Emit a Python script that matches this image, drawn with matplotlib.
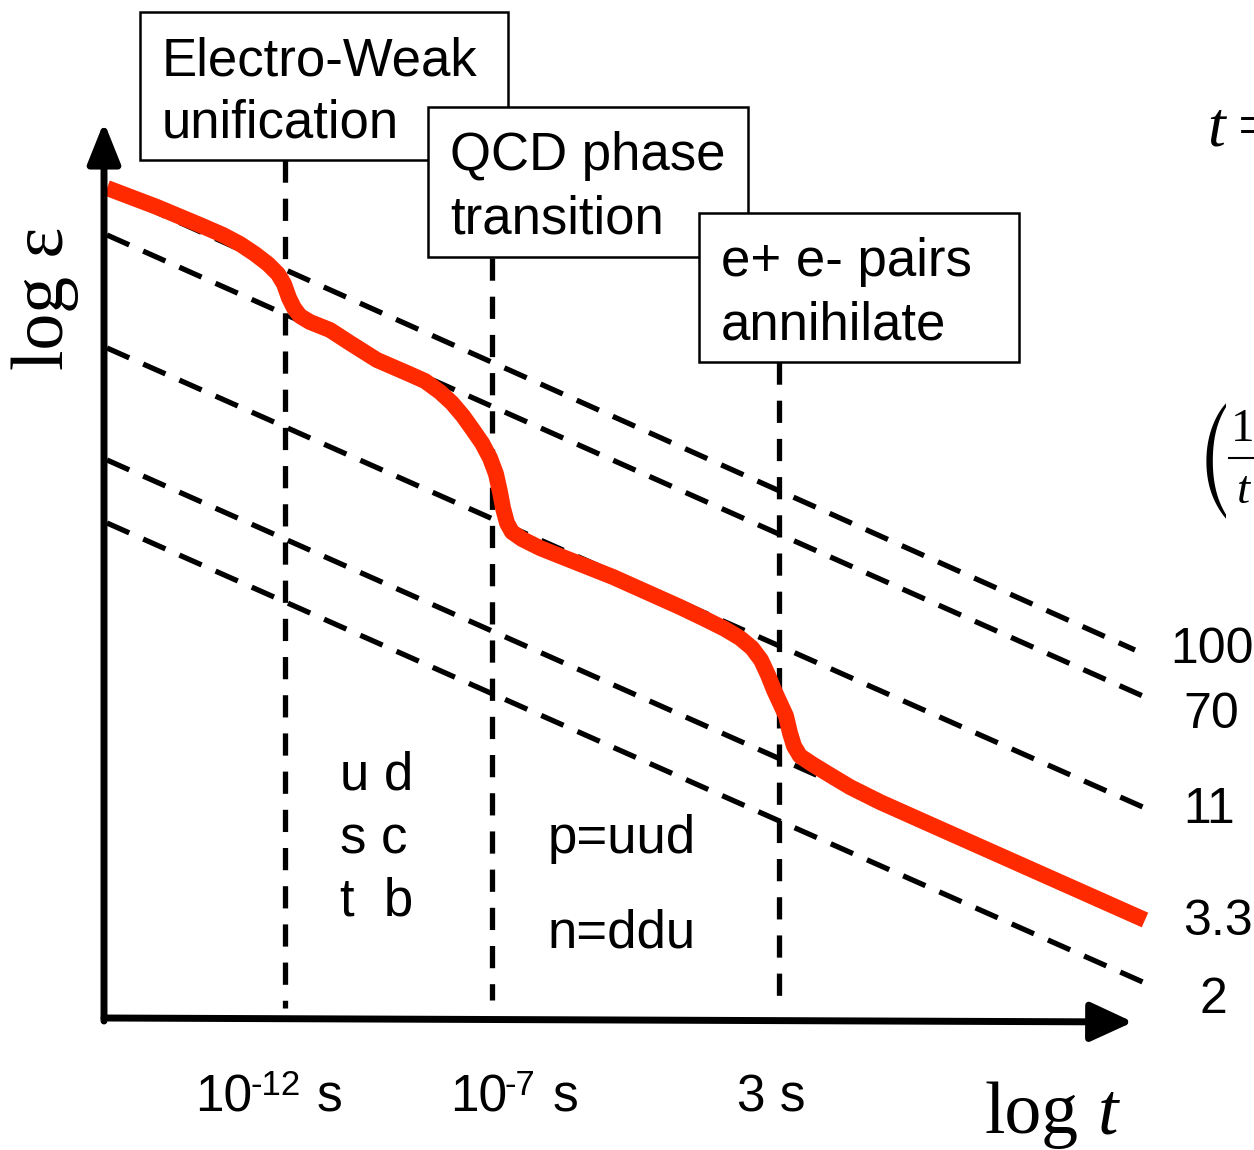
import matplotlib
matplotlib.use('Agg')
import matplotlib.pyplot as plt
from matplotlib.patches import Rectangle
from matplotlib.transforms import Bbox, TransformedBbox

plt.rcParams['lines.scale_dashes'] = False
plt.rcParams['mathtext.fontset'] = 'stix'

SANS = ['Liberation Sans', 'DejaVu Sans']
SERIF = ['Liberation Serif', 'DejaVu Serif']

# ---------------- data (schematic: x ~ log t, y ~ -log eps, picture units) ----
# transitions (vertical dashed lines)
transition_x = [285, 492, 779]
transition_top = [160, 258, 362]
transition_bottom = [1008, 1000, 1002]
tick_base = ["10", "10", "3"]
tick_exp = ["-12", "-7", ""]
tick_left = [195, 450, 737]

# constant-g* lines  (log eps ~ -2 log t + const)
dof_labels = ["100", "70", "11", "3.3", "2"]
dof_x_start = [107, 107, 107, 107, 107]
dof_y_start = [190, 235, 348, 460, 523]
dof_x_end = [1135, 1145, 1145, 1145, 1145]
dof_y_end = [650, 697, 808, 921, 983]
dof_label_x = [1170, 1183, 1183, 1183, 1200]
dof_label_y = [663, 728, 823, 935, 1013]

# actual evolution (red curve)
curve_x = [107, 157, 200, 223, 240, 255, 268, 278, 284, 289, 294, 300, 310,
           330, 350, 377, 407, 425, 440, 452, 463, 473, 482, 490, 496, 500,
           503, 507, 512, 522, 540, 560, 613, 680, 705, 725, 740, 752, 761,
           768, 774, 780, 786, 790, 794, 800, 812, 830, 850, 880, 927, 1145]
curve_y = [188, 207, 225, 235, 244, 254, 264, 274, 284, 298, 308, 316, 322,
           330, 343, 360, 373, 381, 392, 403, 416, 430, 443, 458, 474, 492,
           508, 523, 532, 539, 548, 556, 577, 607, 619, 629, 638, 648, 660,
           675, 690, 703, 716, 733, 746, 756, 764, 775, 787, 802, 823, 920]

# annotation boxes
box_text = ["Electro-Weak\nunification", "QCD phase\ntransition",
            "e+ e- pairs\nannihilate"]
box_x0 = [140, 428, 699]
box_y0 = [12, 107, 213]
box_x1 = [508, 748, 1019]
box_y1 = [160, 257, 362]

# particle content labels
region_text = ["u d", "s c", "t  b", "p=uud", "n=ddu"]
region_x = [340, 340, 340, 548, 548]
region_y = [790, 853, 916, 853, 948]

# ---------------- figure ----------------
fig = plt.figure(figsize=(12.54, 11.5), dpi=100)
ax = fig.add_axes([0, 0, 1, 1])
ax.set_xlim(0, 1254)
ax.set_ylim(1150, 0)
ax.axis('off')

# axes arrows
ax.annotate('', xy=(104, 122), xytext=(104, 1021),
            arrowprops=dict(arrowstyle='-|>,head_length=1.25,head_width=0.5',
                            lw=5.0, color='k', shrinkA=0, shrinkB=0,
                            mutation_scale=20), zorder=4)
ax.annotate('', xy=(1133, 1022), xytext=(104, 1018),
            arrowprops=dict(arrowstyle='-|>,head_length=1.3,head_width=0.6',
                            lw=5.0, color='k', shrinkA=0, shrinkB=0,
                            mutation_scale=20), zorder=4)

# dashed constant lines
for xs, ys, xe, ye in zip(dof_x_start, dof_y_start, dof_x_end, dof_y_end):
    ax.plot([xs, xe], [ys, ye], color='k', lw=3.8, dashes=(17.5, 11),
            solid_capstyle='butt', dash_capstyle='butt', zorder=2)

for lab, lx, ly in zip(dof_labels, dof_label_x, dof_label_y):
    ax.text(lx, ly, lab, fontsize=36, family=SANS, ha='left', va='baseline')

# vertical transitions
for x, yt, yb in zip(transition_x, transition_top, transition_bottom):
    ax.plot([x, x], [yt, yb], color='k', lw=3.8, dashes=(16, 11.5),
            dash_capstyle='butt', zorder=2)

# red curve
ax.plot(curve_x, curve_y, color='#ff2a00', lw=11.5, solid_capstyle='butt',
        solid_joinstyle='round', zorder=3)

# boxes
for i, (t, x0, y0, x1, y1) in enumerate(zip(box_text, box_x0, box_y0,
                                             box_x1, box_y1)):
    ax.add_patch(Rectangle((x0, y0), x1 - x0, y1 - y0, facecolor='white',
                           edgecolor='k', lw=1.8, zorder=5 + i))
    l1, l2 = t.split('\n')
    ax.text(x0 + 22, y0 + 63, l1, fontsize=38, family=SANS, ha='left',
            va='baseline', zorder=5 + i)
    ax.text(x0 + 22, y0 + 126, l2, fontsize=38, family=SANS, ha='left',
            va='baseline', zorder=5 + i)

# region labels
for t, x, y in zip(region_text, region_x, region_y):
    ax.text(x, y, t, fontsize=38, family=SANS, ha='left', va='baseline')

# time tick labels
for b, e, x in zip(tick_base, tick_exp, tick_left):
    if e:
        ax.text(x, 1112, b, fontsize=37, family=SANS, ha='left', va='baseline')
        ax.text(x + 55, 1095, e, fontsize=25, family=SANS, ha='left',
                va='baseline')
        xs = x + (122 if len(e) == 3 else 103)
        ax.text(xs, 1112, "s", fontsize=37, family=SANS, ha='left',
                va='baseline')
    else:
        ax.text(x, 1112, b + " s", fontsize=37, family=SANS, ha='left',
                va='baseline')

# axis titles
ax.text(985, 1133, "log", fontsize=53, family=SERIF, ha='left', va='baseline')
ax.text(1098, 1133, "t", fontsize=53, family=SERIF, style='italic',
        ha='left', va='baseline')
ax.text(63, 298, "log ε", fontsize=53, family=SERIF, rotation=90,
        rotation_mode='anchor', ha='center', va='baseline')

# cut-off material on the right edge
ax.text(1207, 146, "t", fontsize=46, family=SERIF, style='italic',
        ha='left', va='baseline')
ax.text(1238, 146, "=", fontsize=46, family=SERIF, ha='left', va='baseline')
paren = ax.text(1196, 462, r'$\left(\dfrac{1}{t}\right)$', fontsize=58,
                ha='left', va='center', clip_on=True)
paren.set_clip_box(TransformedBbox(Bbox([[1190, 370], [1226, 560]]),
                                   ax.transData))
ax.text(1231, 441, "1", fontsize=34, family=SERIF, ha='left', va='baseline')
ax.plot([1229, 1254], [458, 458], color='k', lw=1.5)
ax.text(1237, 503, "t", fontsize=34, family=SERIF, style='italic',
        ha='left', va='baseline')

fig.savefig('out.png', dpi=100)
